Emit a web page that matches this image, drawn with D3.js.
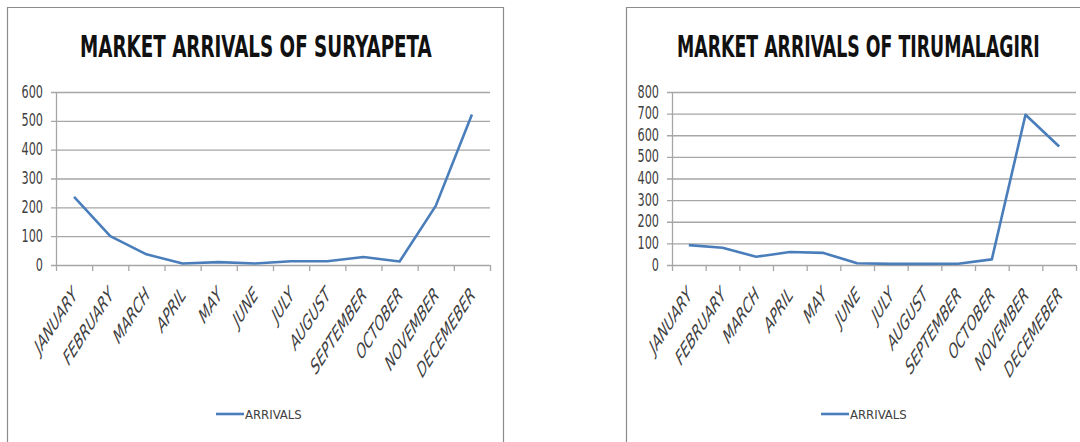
<!DOCTYPE html>
<html>
<head>
<meta charset="utf-8">
<script src="https://cdn.jsdelivr.net/npm/d3@7"></script>
<style>
  body { margin: 0; background: #fff; }
  svg text { font-family: "Liberation Sans Narrow", "DejaVu Sans Condensed", "Liberation Sans", sans-serif; }
</style>
</head>
<body>
<div id="plot"></div>
<script>
const months = ["JANUARY", "FEBRUARY", "MARCH", "APRIL", "MAY", "JUNE", "JULY",
    "AUGUST", "SEPTEMBER", "OCTOBER", "NOVEMBER", "DECEMEBER"];
const suryapeta = [236, 100, 37, 5, 10, 5, 13, 13, 28, 12, 205, 522];
const tirumalagiri = [92, 80, 38, 60, 56, 8, 5, 5, 6, 26, 695, 548];
const suryapetaTicks = [0, 100, 200, 300, 400, 500, 600];
const tirumalagiriTicks = [0, 100, 200, 300, 400, 500, 600, 700, 800];

const svg = d3.select("#plot")
    .append("svg")
    .attr("width", 1080)
    .attr("height", 442);

function drawChart(opt) {
    const g = svg.append("g");

    // chart frame (right chart runs off the picture on the right)
    const f0 = opt.frame[0] + 0.5, f1 = opt.frame[1] + 0.5;
    g.append("path")
        .attr("d", opt.closed
            ? `M${f0},442 V7.5 H${f1} V442`
            : `M${f0},442 V7.5 H1080`)
        .attr("fill", "none")
        .attr("stroke", "#8c8c8c")
        .attr("stroke-width", 1.2);

    const x = d3.scaleBand()
        .domain(months)
        .range([opt.left, opt.right]);

    const y = d3.scaleLinear()
        .domain([0, d3.max(opt.ticks)])
        .range([265, 92]);

    // gridlines
    g.append("g")
        .selectAll("line")
        .data(opt.ticks)
        .enter().append("line")
        .attr("x1", opt.left - 5)
        .attr("x2", opt.right)
        .attr("y1", d => y(d) + 0.5)
        .attr("y2", d => y(d) + 0.5)
        .attr("stroke", "#a6a6a6")
        .attr("stroke-width", 1.3);

    // y axis line
    g.append("line")
        .attr("x1", opt.left + 0.5).attr("x2", opt.left + 0.5)
        .attr("y1", y(d3.max(opt.ticks))).attr("y2", y(0))
        .attr("stroke", "#a6a6a6")
        .attr("stroke-width", 1.3);

    // y labels
    g.append("g")
        .selectAll("text")
        .data(opt.ticks)
        .enter().append("text")
        .attr("transform", d => `translate(${opt.left - 13},${y(d) + 5.5}) scale(1,1.4)`)
        .attr("text-anchor", "end")
        .style("font-size", "12.5px")
        .attr("fill", "#404040")
        .text(d => d);

    // x ticks at band edges
    const edges = months.map(m => x(m)).concat([opt.right]);
    g.append("g")
        .selectAll("line")
        .data(edges)
        .enter().append("line")
        .attr("x1", d => d + 0.5).attr("x2", d => d + 0.5)
        .attr("y1", y(0)).attr("y2", y(0) + 6)
        .attr("stroke", "#a6a6a6")
        .attr("stroke-width", 1.3);

    // x labels
    g.append("g")
        .selectAll("text")
        .data(months)
        .enter().append("text")
        .attr("transform", d => `translate(${x(d) + x.bandwidth() / 2 + 4},296) scale(1,1.54) rotate(-45)`)
        .attr("text-anchor", "end")
        .style("font-size", "13.5px")
        .style("font-style", "italic")
        .attr("fill", "#404040")
        .text(d => d);

    // line
    g.append("path")
        .datum(opt.values)
        .attr("fill", "none")
        .attr("stroke", "#4a7ebb")
        .attr("stroke-width", 2.6)
        .attr("stroke-linejoin", "round")
        .attr("d", d3.line()
            .x((d, i) => x(months[i]) + x.bandwidth() / 2)
            .y(d => y(d)));

    // title, squeezed to the reference width
    const title = g.append("text")
        .style("font-size", "30px")
        .style("font-weight", "bold")
        .attr("fill", "#111")
        .text(opt.title);
    const len = title.node().getComputedTextLength();
    title.attr("transform", `translate(${opt.titleX},57) scale(${opt.titleW / len},1)`);

    // legend
    g.append("line")
        .attr("x1", opt.legendX).attr("x2", opt.legendX + 28)
        .attr("y1", 414).attr("y2", 414)
        .attr("stroke", "#4a7ebb")
        .attr("stroke-width", 2.6);
    g.append("text")
        .attr("x", opt.legendX + 29)
        .attr("y", 419)
        .style("font-size", "13px")
        .attr("fill", "#404040")
        .text("ARRIVALS");
}

drawChart({
    frame: [7, 503], closed: true, left: 56, right: 490,
    ticks: suryapetaTicks, values: suryapeta,
    title: "MARKET ARRIVALS OF SURYAPETA", titleX: 80, titleW: 352,
    legendX: 216
});

drawChart({
    frame: [626, 1080], closed: false, left: 672, right: 1076,
    ticks: tirumalagiriTicks, values: tirumalagiri,
    title: "MARKET ARRIVALS OF TIRUMALAGIRI", titleX: 677, titleW: 363,
    legendX: 821
});
</script>
</body>
</html>
